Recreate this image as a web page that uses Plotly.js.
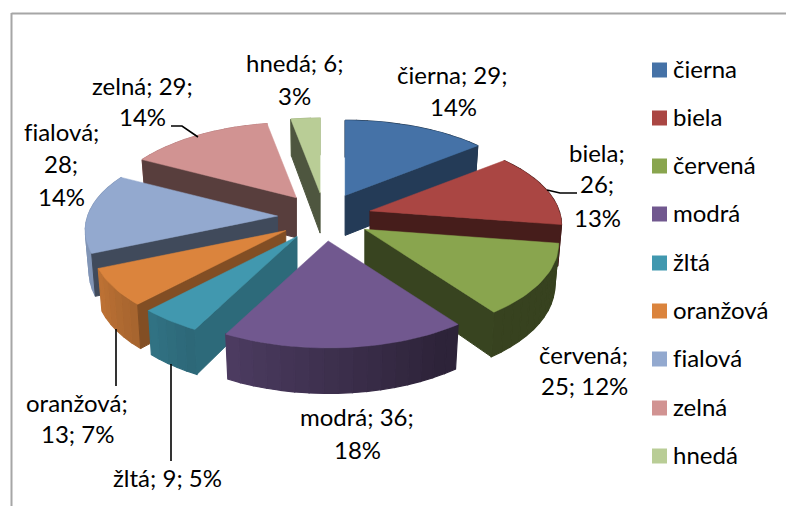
<!DOCTYPE html>
<html><head><meta charset="utf-8">
<script src="https://cdn.plot.ly/plotly-3.0.1.min.js"></script>
<style>html,body{margin:0;padding:0;background:#fff}#c{width:786px;height:506px}
svg text{font-variant-ligatures:none;font-feature-settings:"liga" 0}</style></head>
<body><div id="c"></div>
<script>
const categories = ['čierna','biela','červená','modrá','žltá','oranžová','fialová','zelná','hnedá'];
const values = [29,26,25,36,9,13,28,29,6];
const percents = [14,13,12,18,5,7,14,14,3];
const colors = ['#4572A7','#AA4643','#89A54E','#71588F','#4198AF','#DB843D','#93A9CF','#D19392','#B9CD96'];

// Pie projection (pixel space of the hidden axes)
const center = [324.5,217], explode = [47,24], radius = [190,91], persp = 0.16, explodePersp = 0.1;

// Label layout: one row per text line [category index, line kind, x, y]
const labelRows = [
  [0,'nv',452,74],[0,'p',453,106],
  [1,'n',597,152],[1,'v',597,183],[1,'p',597,217],
  [2,'n',583,354],[2,'vp',584,385],
  [3,'nv',357,416],[3,'p',357,449],
  [4,'nvp',167,477],
  [5,'n',77,402],[5,'vp',77,433],
  [6,'n',61,131],[6,'v',61,163],[6,'p',61,196],
  [7,'nv',142,85],[7,'p',142,116],
  [8,'nv',294,62],[8,'p',294,95]
];
const leaders = [
  [[171,182,198],[126,126,137]],
  [[547,560,577],[190,193,193]],
  [[116,116],[329,386]],
  [[171,171],[364,461]]
];
const legendX = 652, legendTextX = 671, legendY = [70,118,166,214,263,311,359,408,456], legendTextDy = -1.5;

const total = values.reduce((a,b)=>a+b,0);
const rad = d => d*Math.PI/180;
function shadeHex(hex,s){
  const n=parseInt(hex.slice(1),16);
  const c=[n>>16&255,n>>8&255,n&255].map(v=>Math.round(v*s));
  return `rgb(${c[0]},${c[1]},${c[2]})`;
}
function wallShade(t){ return t<=150?0.4:(t>=250?0.88:0.4+(t-150)/100*0.48); }
function faceShade(t){ return t<60?0.52:(t<200?0.41:(t>=250?0.42:0.75-(t-200)/50*0.33)); }
function depth(v){ return 41+4.5*v; }

let cum=0;
const slices = values.map((val,i)=>{
  const a0=cum/total*360; cum+=val; const a1=cum/total*360; const m=(a0+a1)/2;
  const vm=-Math.cos(rad(m));
  const apex=[center[0]+explode[0]*Math.sin(rad(m)), center[1]+explode[1]*vm];
  const pt=t=>{
    const u=Math.sin(rad(t)), v=-Math.cos(rad(t)), f=1+persp*(v+explodePersp*vm);
    const x=apex[0]+radius[0]*u*f, y=apex[1]+radius[1]*v*f;
    return {x,y,v,bx:apex[0]+(x-apex[0])*0.98, by:y+depth(v)};
  };
  return {i,a0,a1,m,apex,pt};
}).sort((p,q)=>p.apex[1]-q.apex[1]);

const traces=[];
function poly(xs,ys,color,name,i,width){
  traces.push({type:'scatter',mode:'lines',x:xs,y:ys,fill:'toself',fillcolor:color,
    line:{color:color,width:width},showlegend:false,name:name,hoverinfo:'text',hoveron:'fills',
    text:`${name}; ${values[i]}; ${percents[i]}%`});
}
slices.forEach(s=>{
  const name=categories[s.i], base=colors[s.i];
  const [ax,ay]=s.apex;
  const aBottom=[ax,ay+depth(0)-1];
  // Outer wall, shaded along the arc
  const n=Math.max(2,Math.ceil((s.a1-s.a0)/4));
  for(let k=0;k<n;k++){
    const t0=s.a0+(s.a1-s.a0)*k/n, t1=s.a0+(s.a1-s.a0)*(k+1)/n;
    const p=s.pt(t0), q=s.pt(t1);
    poly([p.x,q.x,q.bx,p.bx,p.x],[p.y,q.y,q.by,p.by,p.y],shadeHex(base,wallShade((t0+t1)/2)),name,s.i,1.2);
  }
  // Cut faces: shown only when their outward normal points to the viewer
  [[s.a0,-90],[s.a1,90]].forEach(([t,off])=>{
    if(-Math.cos(rad(t+off))>0){
      const p=s.pt(t);
      poly([ax,p.x,p.bx,aBottom[0],ax],[ay,p.y,p.by,aBottom[1],ay],shadeHex(base,faceShade(t)),name,s.i,1);
    }
  });
  // Top face
  const xs=[ax], ys=[ay], m=Math.max(4,Math.ceil((s.a1-s.a0)/2));
  for(let k=0;k<=m;k++){ const p=s.pt(s.a0+(s.a1-s.a0)*k/m); xs.push(p.x); ys.push(p.y); }
  xs.push(ax); ys.push(ay);
  poly(xs,ys,base,name,s.i,0.5);
});

// Leader lines
leaders.forEach(l=>traces.push({type:'scatter',mode:'lines',x:l[0],y:l[1],
  line:{color:'#000',width:1.6},showlegend:false,hoverinfo:'skip'}));

const font={family:'Lato, Carlito, sans-serif',size:24,color:'#000'};
const lineText=(i,k)=>({n:`${categories[i]};`,v:`${values[i]};`,p:`${percents[i]}%`,
  nv:`${categories[i]}; ${values[i]};`,vp:`${values[i]}; ${percents[i]}%`,
  nvp:`${categories[i]}; ${values[i]}; ${percents[i]}%`}[k]);
const annotations=labelRows.map(([i,k,x,y])=>({xref:'x',yref:'y',x,y,text:lineText(i,k),
  showarrow:false,xanchor:'center',yanchor:'middle',font}));
categories.forEach((c,i)=>annotations.push({xref:'x',yref:'y',x:legendTextX,y:legendY[i]+legendTextDy,text:c,
  showarrow:false,xanchor:'left',yanchor:'middle',font}));

const shapes=[
  {type:'line',xref:'x',yref:'y',x0:11.5,x1:786,y0:13.5,y1:13.5,line:{color:'#A6A6A6',width:2}},
  {type:'line',xref:'x',yref:'y',x0:11.5,x1:11.5,y0:13,y1:506,line:{color:'#A6A6A6',width:2}}
];
categories.forEach((c,i)=>shapes.push({type:'rect',xref:'x',yref:'y',x0:legendX,x1:legendX+15,
  y0:legendY[i]-7.5,y1:legendY[i]+7.5,fillcolor:colors[i],line:{width:0}}));

Plotly.newPlot('c',traces,{
  width:786,height:506,margin:{l:0,r:0,t:0,b:0},paper_bgcolor:'#fff',plot_bgcolor:'#fff',
  showlegend:false,
  xaxis:{range:[0,786],visible:false,fixedrange:true},
  yaxis:{range:[506,0],visible:false,fixedrange:true},
  annotations,shapes
},{displayModeBar:false});
</script></body></html>
